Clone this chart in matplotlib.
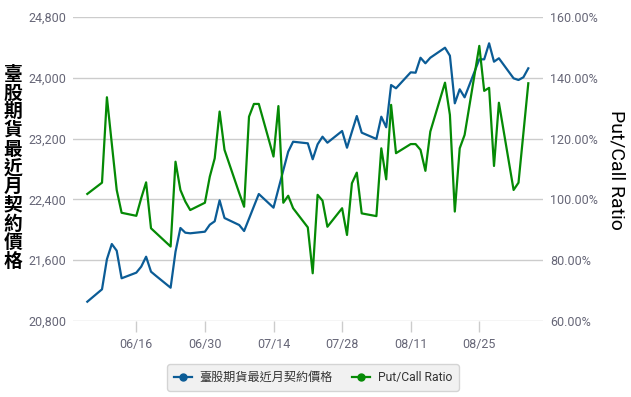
import matplotlib
matplotlib.use("Agg")
import matplotlib.pyplot as plt
from matplotlib.lines import Line2D
from matplotlib.ticker import FuncFormatter
import pandas as pd

plt.rcParams['font.family'] = ['Roboto', 'Noto Sans CJK TC', 'DejaVu Sans']

# ---- data ----
dates = pd.bdate_range("2025-06-06", "2025-09-04")
futures_price = [
    21054, 21217, 21612, 21813, 21725, 21362,
    21436, 21515, 21646, 21449, 21395,
    21238, 21712, 22024, 21962, 21954,
    21975, 22067, 22112, 22388, 22155,
    22063, 21984, 22146, 22309, 22471,
    22291, 22537, 22783, 23028, 23159,
    23138, 22928, 23125, 23225, 23146,
    23300, 23080, 23290, 23497, 23278,
    23195, 23488, 23349, 23905, 23862,
    24072, 24067, 24264, 24191, 24264,
    24396, 24291, 23664, 23849, 23743,
    24243, 24243, 24454, 24212, 24257,
    23993, 23971, 24007, 24125,
]
put_call_ratio = [
    101.8, 105.5, 133.6, 118.3, 103.1, 95.6,
    94.6, 100.4, 105.6, 90.5, 89.0,
    84.5, 112.4, 103.1, 99.3, 96.5,
    98.9, 107.5, 113.5, 128.9, 116.3,
    102.1, 97.6, 127.2, 131.4, 131.4,
    114.1, 130.7, 98.9, 101.2, 97.1,
    90.8, 75.7, 101.5, 99.6, 91.0,
    97.1, 88.3, 105.3, 108.8, 95.4,
    94.5, 116.8, 106.6, 131.1, 115.2,
    118.2, 118.2, 116.3, 109.4, 122.3,
    138.4, 127.8, 96.0, 116.8, 121.2,
    150.5, 135.7, 136.7, 111.0, 131.8,
    103.1, 105.5, 121.8, 138.2,
]
series_names = ["臺股期貨最近月契約價格", "Put/Call Ratio"]
left_ticks = [20800, 21600, 22400, 23200, 24000, 24800]
right_ticks = [60, 80, 100, 120, 140, 160]
x_tick_labels = ["06/16", "06/30", "07/14", "07/28", "08/11", "08/25"]

blue = "#0b5c96"
green = "#058a05"
tick_col = "#666677"

W, H = 631, 397
fig = plt.figure(figsize=(W / 100, H / 100), dpi=100)
ax = fig.add_axes([73 / W, 1 - 321 / H, (543 - 73) / W, (321 - 17) / H])
ax2 = ax.twinx()

ax.plot(dates, futures_price, color=blue, lw=1.6, zorder=3)
ax2.plot(dates, put_call_ratio, color=green, lw=1.6, zorder=3)

x0 = pd.Timestamp("2025-06-16") - pd.Timedelta(days=12.92)
x1 = pd.Timestamp("2025-08-25") + pd.Timedelta(days=13.0)
ax.set_xlim(x0, x1)
ax.set_ylim(left_ticks[0], left_ticks[-1])
ax2.set_ylim(right_ticks[0], right_ticks[-1])

xt = [pd.Timestamp("2025-" + s.replace("/", "-")) for s in x_tick_labels]
ax.set_xticks(xt)
ax.set_xticklabels(x_tick_labels)
ax.set_yticks(left_ticks)
ax.yaxis.set_major_formatter(FuncFormatter(lambda v, p: f"{int(v):,}"))
ax2.set_yticks(right_ticks)
ax2.yaxis.set_major_formatter(FuncFormatter(lambda v, p: f"{v:.2f}%"))

for a in (ax, ax2):
    for s in a.spines.values():
        s.set_visible(False)
ax.yaxis.grid(True, color="#cccccc", lw=1)
ax.set_axisbelow(True)
ax.tick_params(axis="y", length=0, pad=5, labelsize=9, labelcolor=tick_col)
ax2.tick_params(axis="y", length=0, pad=5, labelsize=9, labelcolor=tick_col)
ax.tick_params(axis="x", length=8, width=1, color="#cccccc", pad=4,
               labelsize=9, labelcolor=tick_col)

# left vertical CJK label
fig.text(13 / W, 1 - 168 / H, "\n".join(series_names[0]), ha="center", va="center",
         fontsize=13.5, linespacing=0.98, family=["Noto Sans CJK TC"], fontweight="bold")
# right label
fig.text(617 / W, 1 - 170 / H, "Put/Call Ratio", rotation=-90, ha="center", va="center",
         fontsize=14, color="black")

handles = [
    Line2D([], [], color=blue, lw=1.6, marker="o", markersize=5),
    Line2D([], [], color=green, lw=1.6, marker="o", markersize=5),
]
leg = fig.legend(handles, series_names, loc="center", bbox_to_anchor=(313 / W, 1 - 377.5 / H),
                 ncol=2, frameon=True, fontsize=8.7, handlelength=1.5, handletextpad=0.6,
                 columnspacing=1.6, borderpad=0.55, fancybox=True)
leg.get_frame().set_facecolor("#eeeeee")
leg.get_frame().set_edgecolor("#cccccc")
for t in leg.get_texts():
    t.set_color("#333333")

fig.savefig("out.png", dpi=100)
